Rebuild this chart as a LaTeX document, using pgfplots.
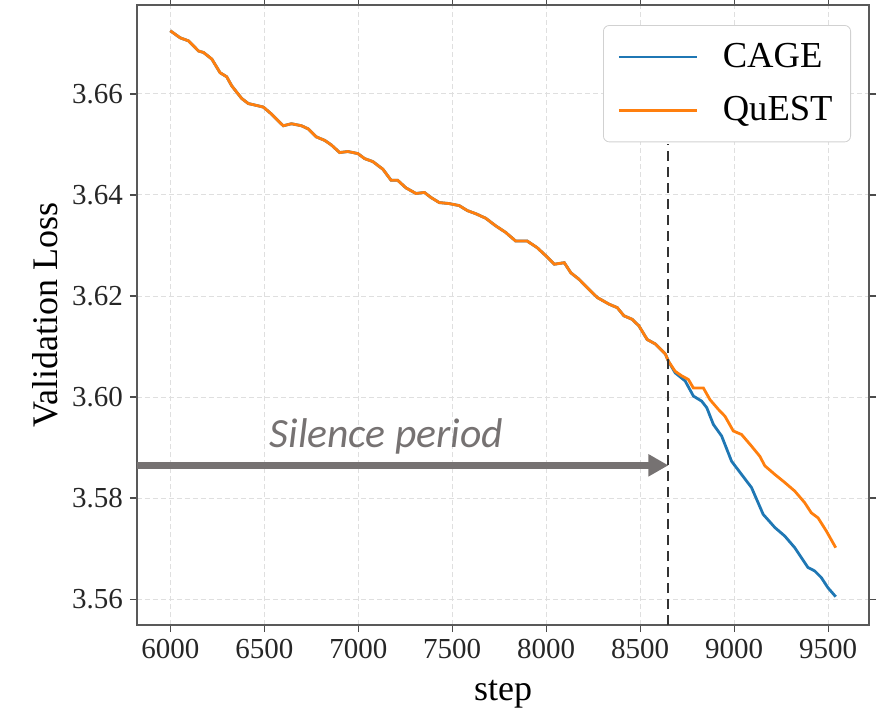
\documentclass[border=0pt]{standalone}
\usepackage{fontspec}
\setmainfont{Liberation Serif}
\newfontfamily\calibri{Carlito}
\usepackage{pgfplots}
\usepackage{pgfplotstable}
\pgfplotsset{compat=1.18}
\usetikzlibrary{arrows.meta}

\definecolor{tabblue}{HTML}{1F77B4}
\definecolor{taborange}{HTML}{FF7F0E}
\definecolor{arrowgray}{RGB}{118,114,114}

% QuEST
\pgfplotstableread{
step loss
6000 3.6725
6053 3.6711
6097 3.6705
6150 3.6685
6177 3.6682
6221 3.6669
6265 3.6642
6300 3.6634
6327 3.6616
6380 3.6591
6415 3.6581
6450 3.6578
6495 3.6574
6539 3.6560
6601 3.6537
6645 3.6541
6698 3.6537
6733 3.6531
6777 3.6515
6822 3.6508
6857 3.6499
6901 3.6484
6945 3.6486
6998 3.6482
7034 3.6472
7078 3.6466
7131 3.6451
7175 3.6429
7210 3.6429
7254 3.6414
7307 3.6403
7352 3.6405
7387 3.6395
7431 3.6385
7484 3.6383
7537 3.6379
7581 3.6369
7625 3.6363
7678 3.6354
7731 3.6339
7784 3.6326
7837 3.6309
7898 3.6309
7951 3.6296
8000 3.6279
8043 3.6263
8096 3.6266
8131 3.6246
8175 3.6233
8228 3.6213
8272 3.6197
8334 3.6184
8378 3.6177
8413 3.6161
8457 3.6154
8493 3.6141
8537 3.6114
8581 3.6105
8634 3.6085
8650 3.6071
8686 3.6051
8721 3.6042
8756 3.6035
8783 3.6018
8836 3.6018
8871 3.5995
8915 3.5976
8951 3.5962
8995 3.5933
9039 3.5926
9092 3.5903
9136 3.5883
9163 3.5864
9216 3.5847
9269 3.5831
9322 3.5814
9375 3.5791
9410 3.5771
9446 3.5761
9490 3.5735
9540 3.5702
}\quest

% CAGE
\pgfplotstableread{
step loss
6000 3.6725
6053 3.6711
6097 3.6705
6150 3.6685
6177 3.6682
6221 3.6669
6265 3.6642
6300 3.6634
6327 3.6616
6380 3.6591
6415 3.6581
6450 3.6578
6495 3.6574
6539 3.6560
6601 3.6537
6645 3.6541
6698 3.6537
6733 3.6531
6777 3.6515
6822 3.6508
6857 3.6499
6901 3.6484
6945 3.6486
6998 3.6482
7034 3.6472
7078 3.6466
7131 3.6451
7175 3.6429
7210 3.6429
7254 3.6414
7307 3.6403
7352 3.6405
7387 3.6395
7431 3.6385
7484 3.6383
7537 3.6379
7581 3.6369
7625 3.6363
7678 3.6354
7731 3.6339
7784 3.6326
7837 3.6309
7898 3.6309
7951 3.6296
8000 3.6279
8043 3.6263
8096 3.6266
8131 3.6246
8175 3.6233
8228 3.6213
8272 3.6197
8334 3.6184
8378 3.6177
8413 3.6161
8457 3.6154
8493 3.6141
8537 3.6114
8581 3.6105
8634 3.6085
8650 3.6071
8686 3.6048
8739 3.6032
8783 3.6002
8827 3.5992
8854 3.5979
8889 3.5946
8933 3.5923
8986 3.5873
9039 3.5847
9092 3.5821
9154 3.5768
9216 3.5742
9269 3.5725
9322 3.5702
9392 3.5663
9428 3.5656
9463 3.5643
9498 3.5623
9540 3.5605
}\cage

\begin{document}
\begin{tikzpicture}
\useasboundingbox (-68.5pt,-44pt) rectangle ++(439.5pt,356.5pt);
\begin{axis}[
  at={(0,0)}, anchor=south west, scale only axis,
  width=366pt, height=310pt,
  xmin=5823, xmax=9717, ymin=3.5549, ymax=3.6776,
  xtick={6000,6500,7000,7500,8000,8500,9000,9500},
  ytick={3.56,3.58,3.60,3.62,3.64,3.66},
  xticklabel style={/pgf/number format/1000 sep={}},
  yticklabel style={/pgf/number format/.cd,fixed,fixed zerofill,precision=2},
  /pgf/number format/assume math mode=true,
  ticklabel style={font=\fontsize{14.5}{17}\selectfont, black!85},
  label style={font=\fontsize{18}{22}\selectfont},
  xlabel={step}, ylabel={Validation Loss},
  xlabel style={yshift=-4pt},
  tick align=outside, major tick length=3.5pt,
  tick style={black!70, line width=0.7pt},
  axis line style={black!65, line width=1pt},
  grid=major, grid style={gray!25, line width=0.5pt, dash pattern=on 2.5pt off 1.5pt},
  legend cell align=left,
  legend style={at={(0.9754,0.9677)}, anchor=north east, draw=black!18,
    rounded corners=3pt, font=\fontsize{18.3}{22}\selectfont,
    inner xsep=7pt, inner ysep=7pt, row sep=9pt},
  legend image code/.code={\draw[#1] (0pt,0pt) -- (39pt,0pt); \path[draw=none] (39pt,0pt) -- (50pt,0pt);},
]
\addplot[tabblue, line width=1.4pt] table[x=step, y=loss] {\cage};
\addlegendentry{CAGE}
\addplot[taborange, line width=1.4pt] table[x=step, y=loss] {\quest};
\addlegendentry{QuEST}

\draw[black!80, line width=1pt, dash pattern=on 5pt off 3pt]
  (axis cs:8650,3.5549) -- (axis cs:8650,3.650);
\draw[arrowgray, line width=3.2pt, -{Triangle[length=10pt,width=10.5pt]}]
  (axis cs:5823,3.5865) -- (axis cs:8650,3.5865);
\node[anchor=base, text=arrowgray, font=\calibri\itshape\fontsize{20.8}{24}\selectfont]
  at (axis cs:7150,3.590) {Silence period};
\end{axis}
\end{tikzpicture}
\end{document}
